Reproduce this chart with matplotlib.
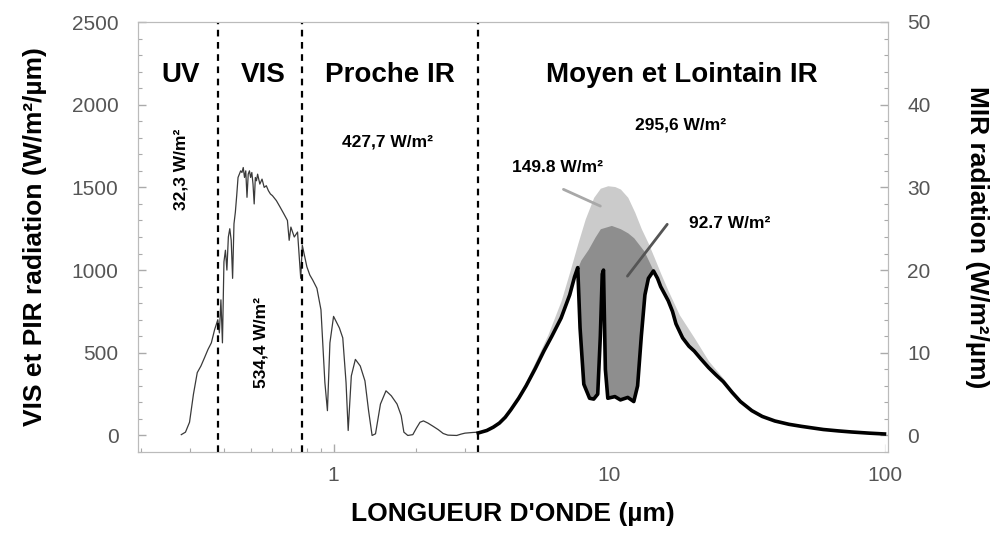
import numpy as np
import matplotlib
matplotlib.use("Agg")
import matplotlib.pyplot as plt
from matplotlib.ticker import MultipleLocator, NullFormatter

plt.rcParams['font.family'] = ['Liberation Sans', 'DejaVu Sans']

# solar spectrum (left axis, W/m2/um)
solar_wl = [0.28, 0.29, 0.30, 0.31, 0.32, 0.33, 0.34, 0.35, 0.36, 0.37, 0.38, 0.385,
            0.39, 0.395, 0.40, 0.405, 0.41, 0.415, 0.42, 0.425, 0.43, 0.435, 0.44,
            0.445, 0.45, 0.455, 0.46, 0.465, 0.47, 0.475, 0.48, 0.485, 0.49, 0.495,
            0.50, 0.505, 0.51, 0.515, 0.52, 0.525, 0.53, 0.54, 0.55, 0.56, 0.57, 0.58,
            0.59, 0.60, 0.62, 0.64, 0.66, 0.68, 0.69, 0.70, 0.72, 0.74, 0.76, 0.77,
            0.80, 0.82, 0.84, 0.87, 0.90, 0.93, 0.95, 0.97, 1.00, 1.05, 1.08, 1.11,
            1.13, 1.16, 1.20, 1.25, 1.30, 1.34, 1.38, 1.42, 1.48, 1.55, 1.62, 1.70,
            1.76, 1.80, 1.86, 1.94, 2.00, 2.06, 2.12, 2.20, 2.30, 2.40, 2.50, 2.60,
            2.80, 2.90, 3.00, 3.20, 3.35]
solar_val = [5, 20, 80, 250, 380, 420, 470, 520, 560, 640, 700, 620,
             820, 560, 1050, 1120, 1000, 1200, 1250, 1180, 950, 1280, 1350,
             1450, 1560, 1580, 1600, 1590, 1620, 1560, 1600, 1440, 1580, 1600,
             1560, 1590, 1520, 1400, 1560, 1540, 1580, 1520, 1550, 1500, 1510, 1480,
             1460, 1450, 1420, 1380, 1340, 1300, 1180, 1260, 1200, 1230, 950, 1150,
             1020, 970, 940, 890, 760, 320, 150, 560, 720, 650, 590, 320,
             30, 360, 460, 420, 330, 150, 0, 10, 190, 270, 240, 190,
             120, 20, 0, 5, 45, 80, 88, 75, 55, 35, 12, 2,
             0, 8, 14, 18, 20]

# thermal IR (right axis, W/m2/um)
bb_wl = [3.35, 3.8, 4.0, 4.5, 5.0, 5.5, 6.0, 6.7, 7.2, 7.7, 8.2, 8.8, 9.3, 9.9, 10.5,
         11.0, 11.7, 12.4, 13.1, 13.9, 14.6, 15.4, 16.4, 18.0, 20.4, 23, 26, 28, 30,
         33, 36, 40, 45, 50, 55, 60, 68, 76, 88, 100]
bb_val = [0.3, 1.1, 1.6, 3.6, 6.6, 9.5, 12.2, 16.3, 19.8, 23.2, 26.2, 28.8, 29.9, 30.2,
          30.1, 29.8, 28.8, 27, 25, 23.2, 21.5, 19.6, 17.5, 14.6, 11.8, 9, 6.9, 5.5,
          4.3, 3.2, 2.4, 1.8, 1.4, 1.15, 0.92, 0.74, 0.56, 0.43, 0.29, 0.19]

dk_wl = [7.7, 7.9, 8.4, 8.9, 9.3, 10.2, 11.0, 11.7, 12.3, 13.4, 14.5]
dk_val = [20.3, 21.2, 22.5, 24, 25, 25.4, 25, 24.5, 23.9, 22.3, 19.9]

toa_wl = [3.35, 3.6, 3.8, 4.0, 4.2, 4.4, 4.7, 5.0, 5.4, 5.8, 6.2, 6.7, 7.2, 7.5, 7.7,
          7.85, 8.1, 8.5, 8.8, 9.1, 9.3, 9.45, 9.55, 9.7, 9.9, 10.5, 11.0, 11.7, 12.3,
          12.7, 13.1, 13.5, 13.9, 14.5, 15.0, 15.4, 16.4, 17.0, 17.5, 18.5, 19.5,
          20.4, 21.5, 23, 24.5, 26, 28, 30, 33, 36, 40, 45, 50, 55, 60, 68, 76, 88, 100]
toa_val = [0.3, 0.6, 1.0, 1.5, 2.2, 3.1, 4.5, 6.0, 8.1, 10.2, 12.0, 14.2, 17, 19.2, 20.3,
           13, 6.2, 4.5, 4.4, 5, 12, 19.5, 20, 8, 4.5, 4.7, 4.3, 4.6, 4.1,
           6, 12, 17, 19, 19.9, 19.0, 18.0, 16.3, 15.0, 13.5, 11.8, 10.8,
           10.2, 9.3, 8.2, 7.3, 6.5, 5.2, 4.1, 3.0, 2.3, 1.75, 1.35, 1.1, 0.9, 0.72,
           0.55, 0.42, 0.28, 0.18]

bounds = [0.38, 0.77, 3.35]

W, H = 994, 534
fig = plt.figure(figsize=(W / 100, H / 100), dpi=100)
ax = fig.add_axes([138 / W, 1 - 452 / H, 750 / W, 430 / H])
ax2 = ax.twinx()

ax.plot(solar_wl, solar_val, color='#3a3a3a', lw=0.9)
ax.set_xscale('log')
ax.set_xlim(0.195, 103)
ax.set_ylim(-100, 2500)
ax2.set_ylim(-2, 50)

ax2.fill_between(bb_wl, 0, bb_val, color='#cbcbcb', lw=0)
ax2.fill_between(dk_wl, 0, dk_val, color='#8e8e8e', lw=0)
ax2.fill_between(toa_wl, -3, toa_val, color='white', lw=0)
ax2.plot(toa_wl, toa_val, color='black', lw=2.6, solid_joinstyle='round')

for b in bounds:
    ax2.axvline(b, color='black', lw=1.6, ls=(0, (3, 2.5)))

ax2.annotate('', xy=(9.5, 27.6), xytext=(6.69, 29.9),
             arrowprops=dict(arrowstyle='-', color='#a8a8a8', lw=2))
ax2.annotate('', xy=(11.5, 19.0), xytext=(16.5, 25.8),
             arrowprops=dict(arrowstyle='-', color='#555555', lw=2))

ax.set_xticks([1, 10, 100], ['1', '10', '100'])
ax.xaxis.set_minor_formatter(NullFormatter())
ax.yaxis.set_major_locator(MultipleLocator(500))
ax.yaxis.set_minor_locator(MultipleLocator(100))
ax2.yaxis.set_major_locator(MultipleLocator(10))
ax2.yaxis.set_minor_locator(MultipleLocator(2))

for a in (ax, ax2):
    a.tick_params(which='both', direction='in', colors='#aaaaaa', labelcolor='#555555',
                  labelsize=15)
    a.tick_params(which='major', length=6, width=1)
    a.tick_params(which='minor', length=3, width=0.8)
    for s in a.spines.values():
        s.set_color('#bbbbbb')
ax.tick_params(axis='y', pad=14)
ax2.tick_params(axis='y', pad=14)
ax.tick_params(axis='x', pad=10)

ax.set_xlabel("LONGUEUR D'ONDE (µm)", fontsize=19, fontweight='bold', labelpad=12)
ax.set_ylabel('VIS et PIR radiation (W/m²/µm)', fontsize=19, fontweight='bold', labelpad=18)
ax2.set_ylabel('MIR radiation (W/m²/µm)', fontsize=19, fontweight='bold',
               rotation=270, labelpad=42)


def ftext(px, py, s, size, **kw):
    fig.text(px / W, 1 - py / H, s, fontsize=size, fontweight='bold',
             ha='center', va='center', **kw)


ftext(181, 75, 'UV', 20)
ftext(263, 75, 'VIS', 20)
ftext(390, 75, 'Proche IR', 20)
ftext(682, 75, 'Moyen et Lointain IR', 20)
ftext(181, 169, '32,3 W/m²', 12.5, rotation=90)
ftext(261, 343, '534,4 W/m²', 12.5, rotation=90)
ftext(388, 142, '427,7 W/m²', 12.5)
ftext(681, 125, '295,6 W/m²', 12.5)
ftext(557, 168, '149.8 W/m²', 12.5)
ftext(730, 224, '92.7 W/m²', 12.5)

fig.savefig('out.png', dpi=100)
